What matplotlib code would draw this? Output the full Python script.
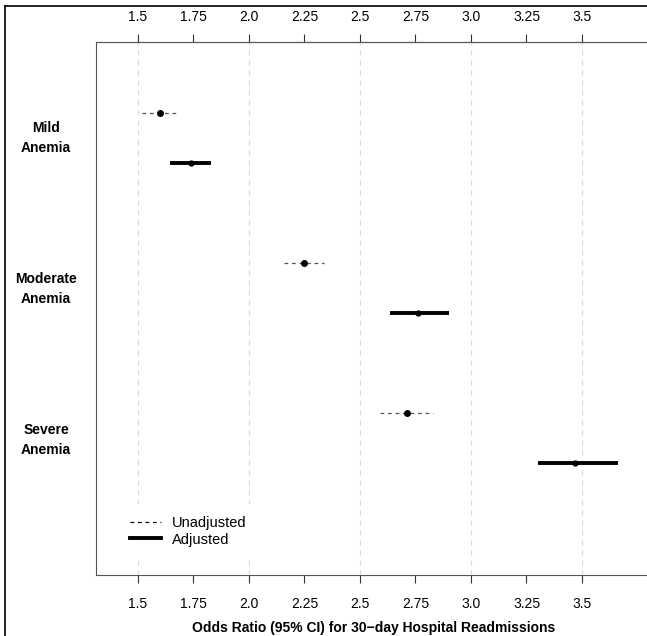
import matplotlib.pyplot as plt
from matplotlib.lines import Line2D
import numpy as np

plt.rcParams['font.family'] = ['Liberation Sans', 'DejaVu Sans']

# odds ratios
groups = ['Mild\nAnemia', 'Moderate\nAnemia', 'Severe\nAnemia']
unadj_or = [1.60, 2.25, 2.71]
unadj_lo = [1.52, 2.16, 2.59]
unadj_hi = [1.67, 2.34, 2.83]
adj_or = [1.74, 2.76, 3.47]
adj_lo = [1.645, 2.635, 3.30]
adj_hi = [1.83, 2.90, 3.66]
xticks = [1.5, 1.75, 2.0, 2.25, 2.5, 2.75, 3.0, 3.25, 3.5]
xtick_labels = ['1.5', '1.75', '2.0', '2.25', '2.5', '2.75', '3.0', '3.25', '3.5']
grid_x = [1.5, 2.0, 2.5, 3.0, 3.5]

W, H = 647, 636
fig = plt.figure(figsize=(W / 100, H / 100), dpi=100)
# axes box in pixels: left 96, top 42, bottom 575, right runs off the page
ax = fig.add_axes([96 / W, 1 - 575 / H, (652 - 96) / W, (575 - 42) / H])

pos = np.arange(1, len(groups) + 1)
off = 1 / 6

for x in grid_x:
    ax.axvline(x, color='#d8d8d8', lw=0.9, ls=(0, (4, 4)), zorder=0)

for i, p in enumerate(pos):
    ax.plot([unadj_lo[i], unadj_hi[i]], [p - off, p - off], color='#555555',
            lw=0.9, ls=(0, (3, 3)), zorder=2)
    ax.plot(unadj_or[i], p - off, 'o', color='black', ms=4, zorder=3)
    ax.plot([adj_lo[i], adj_hi[i]], [p + off, p + off], color='black',
            lw=2.8, solid_capstyle='butt', zorder=2)
    ax.plot(adj_or[i], p + off, 'o', color='black', ms=3.5, zorder=3)

ax.set_xlim(1.311, 1.5 + (652 - 138) / 222)
ax.set_ylim(1 + 437 / 150, 1 - 96 / 150)

# bottom axis ticks
ax.set_xticks(xticks)
ax.set_xticklabels(xtick_labels)
ax.tick_params(axis='x', length=6, width=0.8, color='#333333', labelsize=10, pad=10)
ax.set_yticks([])

# top axis repeats the ticks, a bit closer to the box
top = ax.secondary_xaxis('top')
top.set_xticks(xticks)
top.set_xticklabels(xtick_labels)
top.tick_params(axis='x', length=6, width=0.8, color='#333333', labelsize=10, pad=7)
top.spines['top'].set_color('#555555')
top.spines['top'].set_linewidth(0.8)

for s in ax.spines.values():
    s.set_color('#555555')
    s.set_linewidth(0.8)

for g, p in zip(groups, pos):
    fig.text(46 / W, 1 - (138 + (p - 1) * 151) / H, g, ha='center', va='center',
             fontsize=10, fontweight='bold', linespacing=1.6)

ax.set_xlabel('Odds Ratio (95% CI) for 30\u2212day Hospital Readmissions',
              fontsize=10, fontweight='bold', labelpad=7)

handles = [Line2D([], [], color='black', lw=0.9, ls=(0, (3, 3))),
           Line2D([], [], color='black', lw=2.8)]
leg = ax.legend(handles, ['Unadjusted', 'Adjusted'], loc='upper left',
                bbox_to_anchor=(0.027, 0.147), frameon=True, fontsize=10.5,
                handlelength=2.1, labelspacing=0.2, borderpad=0.8)
leg.get_frame().set_edgecolor('white')
leg.get_frame().set_facecolor('white')
leg.get_frame().set_alpha(1)

# outer frame lines on the left and top
fig.add_artist(Line2D([5 / W, 5 / W], [0, 1 - 6 / H], color='black', lw=1.2))
fig.add_artist(Line2D([5 / W, 1], [1 - 6 / H, 1 - 6 / H], color='black', lw=1.2))

fig.savefig('out.png', dpi=100)
